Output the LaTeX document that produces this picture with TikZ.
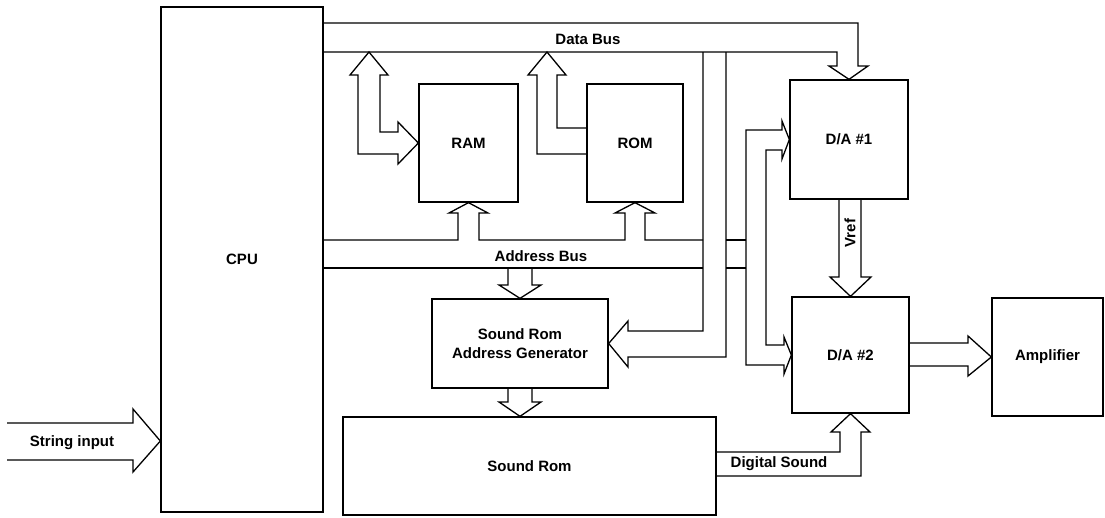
\documentclass[tikz,border=0pt]{standalone}
\usepackage{fontspec}
\setmainfont{Liberation Sans}

\begin{document}
\begin{tikzpicture}[x=1pt, y=-1pt, font=\fontsize{15}{17}\selectfont\bfseries,
    blk/.style={draw, line width=1.3pt, inner sep=0pt, align=center},
    bus/.style={line width=1.3pt, line join=miter}]
  \useasboundingbox (0,0) rectangle (1105,517);
  % blocks
  \node[blk, minimum width=162pt, minimum height=505pt] (cpu) at (242,259.5) {CPU};
  \node[blk, minimum width=99pt, minimum height=118pt] (ram) at (468.5,143) {RAM};
  \node[blk, minimum width=96pt, minimum height=118pt] (rom) at (635,143) {ROM};
  \node[blk, minimum width=118pt, minimum height=119pt] (dac1) at (849,139.5) {D/A \#1};
  \node[blk, minimum width=117pt, minimum height=116pt] (dac2) at (850.5,355) {D/A \#2};
  \node[blk, minimum width=111pt, minimum height=118pt] (amp) at (1047.5,357) {Amplifier};
  \node[blk, minimum width=176pt, minimum height=89pt] (sagen) at (520,343.5)
    {Sound Rom\\[2pt]Address Generator};
  \node[blk, minimum width=373pt, minimum height=98pt] (srom) at (529.5,466) {Sound Rom};

  % data bus
  \draw[bus] (cpu.east |- 0,23) -| (858,66) -- (868,66) -- (dac1.north) -- (829,66) -- (837,66)
    |- (cpu.east |- 0,52);
  \draw[bus] (703,52) |- (628,331) -- (628,321) -- (sagen.east) -- (628,367) -- (628,357) -| (726,52);
  \draw[bus] (398,132) -- (380,132) -- (380,75) -- (388,75) -- (369,52) -- (350,75) -- (358,75)
    -- (358,154) -- (398,154) -- (398,164) -- (ram.west) -- (398,122) -- cycle;
  \draw[bus] (rom.west |- 0,128) -- (557,128) -- (557,75) -- (566,75) -- (547,52) -- (528,75)
    -- (537,75) -- (537,154) -- (rom.west |- 0,154);

  % address bus
  \draw[bus] (cpu.east |- 0,240) -- (458,240) -- (458,213) -- (449,213) -- (ram.south) -- (488,213)
    -- (479,213) -- (479,240) -- (625,240) -- (625,213) -- (615,213) -- (rom.south) -- (655,213)
    -- (645,213) -- (645,240) -- (703,240);
  \draw[bus] (cpu.east |- 0,268) -- (703,268);
  \draw[bus] (726,240) -- (746,240) (726,268) -- (746,268);
  \draw[bus] (508,268) -- (508,285) -- (499,285) -- (sagen.north) -- (541,285) -- (532,285) -- (532,268);
  \draw[bus] (782,130) -- (782,121) -- (dac1.west) -- (782,159) -- (782,150) -- (766,150) -- (766,345)
    -- (784,345) -- (784,337) -- (dac2.west) -- (784,374) -- (784,365) -- (746,365) -- (746,130) -- cycle;

  % sound path
  \draw[bus] (508,388) -- (508,402) -- (499,402) -- (sagen.south |- srom.north) -- (541,402)
    -- (532,402) -- (532,388);
  \draw[bus] (srom.east |- 0,476) -- (861,476) -- (861,432) -- (870,432) -- (dac2.south) -- (831,432)
    -- (840,432) -- (840,452) -- (srom.east |- 0,452);
  \draw[bus] (839,199) -- (839,277) -- (830,277) -- (dac2.north) -- (871,277) -- (861,277) -- (861,199);
  \draw[bus] (dac2.east |- 0,343) -- (968,343) -- (968,336) -- (amp.west) -- (968,376) -- (968,366)
    -- (dac2.east |- 0,366);
  \draw[bus] (7,423) -- (133,423) -- (133,409) -- (cpu.west |- 0,441) -- (133,472) -- (133,460) -- (7,460);

  % bus labels
  \node (datalbl) at (588,39) {Data Bus};
  \node (addrlbl) at (541,256) {Address Bus};
  \node[rotate=90] (vreflbl) at (850,233) {Vref};
  \node (soundlbl) at (779,464) {Digital Sound};
  \node (inlbl) at (72,443) {String input};
\end{tikzpicture}
\end{document}
